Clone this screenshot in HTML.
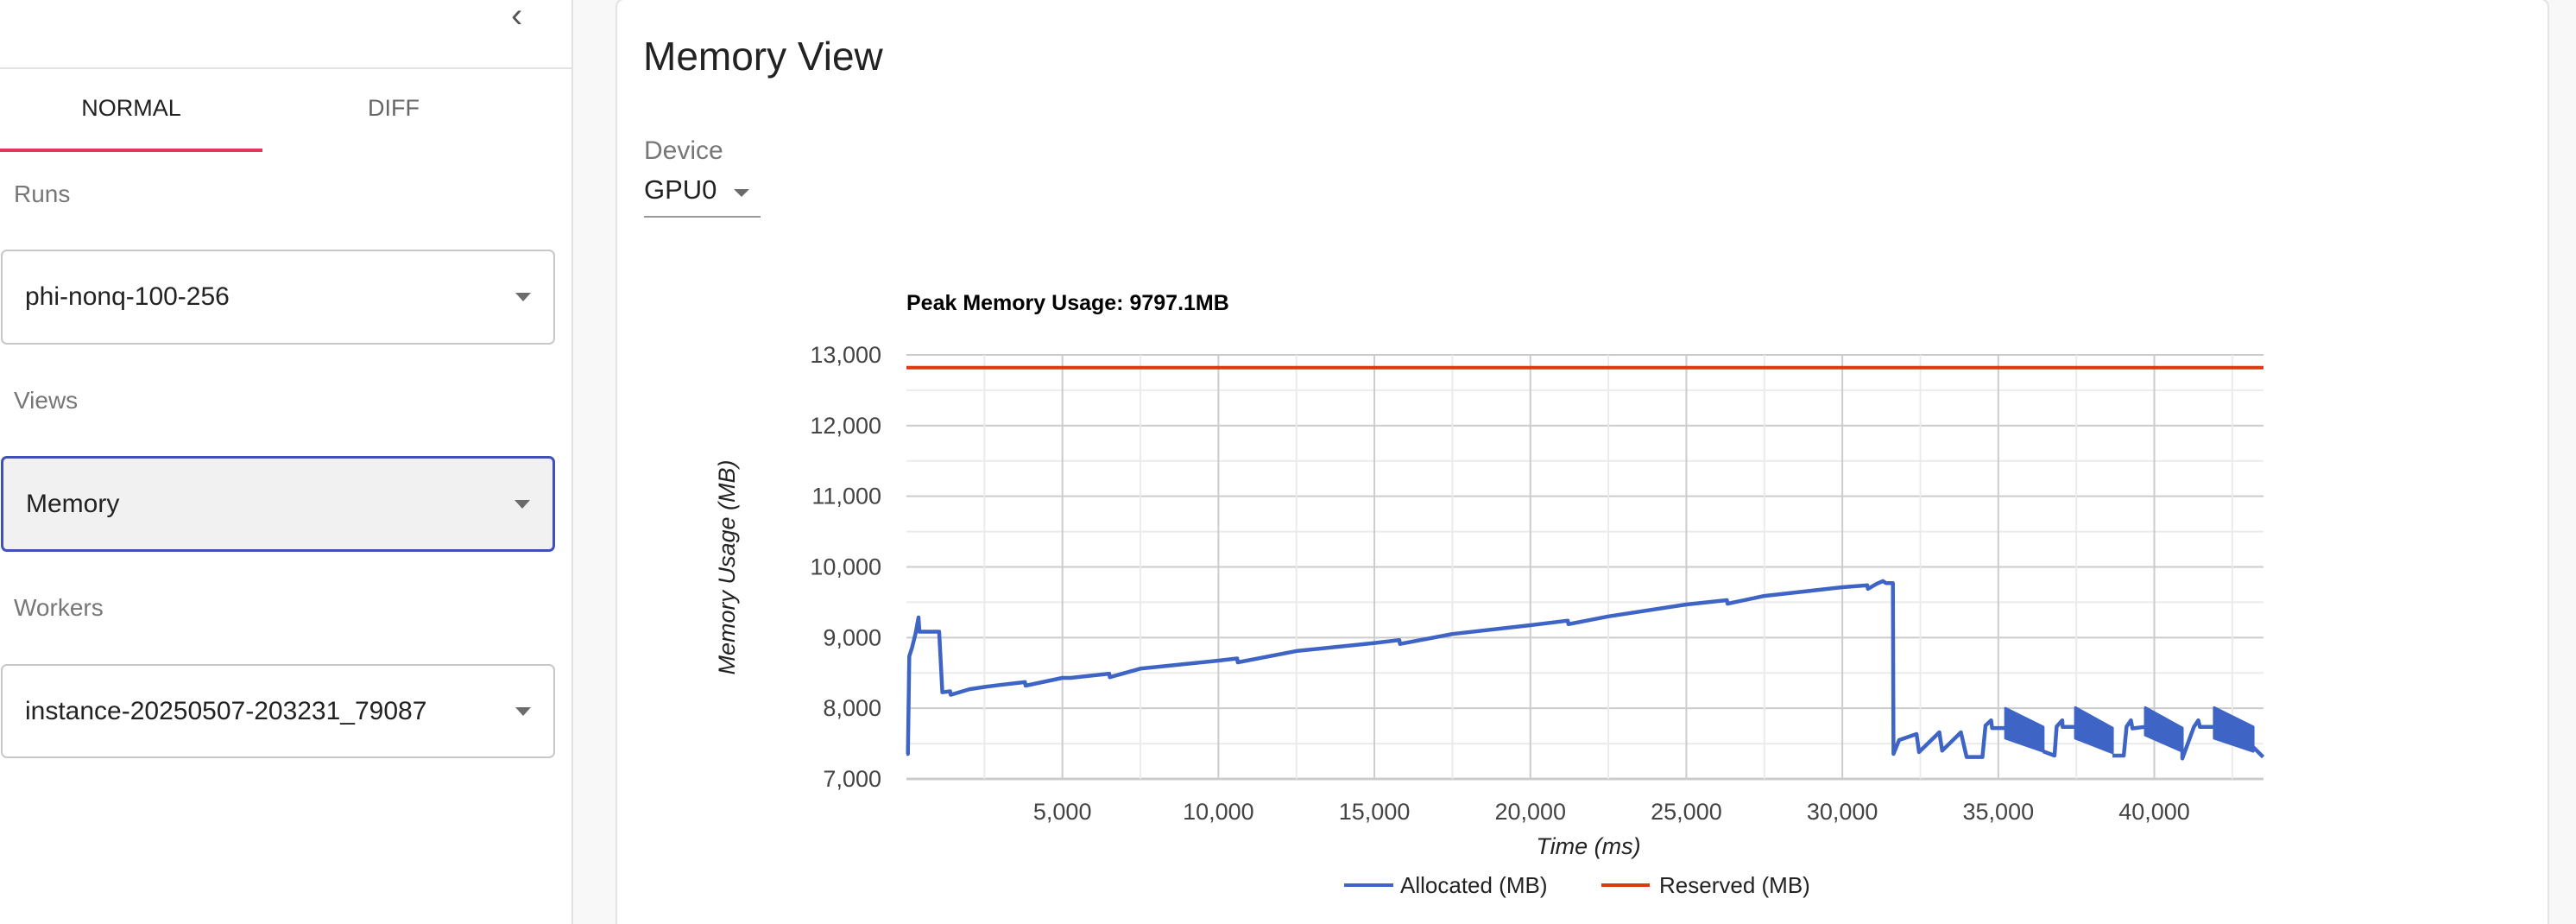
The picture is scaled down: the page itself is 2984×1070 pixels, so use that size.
<!DOCTYPE html>
<html><head><meta charset="utf-8">
<style>
html,body{margin:0;padding:0;width:2984px;height:1070px;overflow:hidden;background:#f8f8f8;font-family:"Liberation Sans",Arial,sans-serif;}
#wrap{position:fixed;left:0;top:0;width:2984px;height:1070px;overflow:hidden;background:#f8f8f8;}
#sidebar{position:absolute;left:0;top:0;width:662px;height:1070px;background:#fff;border-right:2px solid #e2e2e2;}
.abs{position:absolute;}
.lbl{position:absolute;left:16px;font-size:28px;color:#777;}
.sel{position:absolute;left:1px;width:642px;border:2px solid #c8c8c8;border-radius:7px;background:#fff;box-sizing:border-box;}
.sel span{position:absolute;left:26px;font-size:30px;color:#222;top:50%;transform:translateY(-50%);}
.arrow{position:absolute;right:26px;top:50%;margin-top:-5px;width:0;height:0;border-left:9px solid transparent;border-right:9px solid transparent;border-top:10px solid #6b6b6b;}
#card{position:absolute;left:713px;top:-2px;width:2240px;height:1090px;background:#fff;border:2px solid #e4e4e4;border-radius:10px;box-sizing:border-box;}
</style></head>
<body>
<div id="wrap">
<div id="sidebar">
  <div class="abs" style="left:592px;top:-4px;font-size:40px;color:#555;">‹</div>
  <div class="abs" style="left:0;top:78px;width:662px;height:2px;background:#e2e2e2;"></div>
  <div class="abs" style="left:0;top:110px;width:304px;text-align:center;font-size:27px;color:#222;">NORMAL</div>
  <div class="abs" style="left:304px;top:110px;width:304px;text-align:center;font-size:27px;color:#666;">DIFF</div>
  <div class="abs" style="left:0;top:172px;width:304px;height:4px;background:#e8345c;"></div>
  <div class="lbl" style="top:209px;">Runs</div>
  <div class="sel" style="top:289px;height:110px;"><span>phi-nonq-100-256</span><div class="arrow"></div></div>
  <div class="lbl" style="top:448px;">Views</div>
  <div class="sel" style="top:528px;height:111px;background:#f1f1f1;border:3px solid #3f51b5;"><span>Memory</span><div class="arrow"></div></div>
  <div class="lbl" style="top:688px;">Workers</div>
  <div class="sel" style="top:769px;height:109px;"><span>instance-20250507-203231_79087</span><div class="arrow"></div></div>
</div>
<div id="card"></div>
<div class="abs" style="left:745px;top:38px;font-size:46px;color:#222;">Memory View</div>
<div class="abs" style="left:746px;top:158px;font-size:30px;color:#777;">Device</div>
<div class="abs" style="left:746px;top:202px;width:135px;height:48px;border-bottom:2px solid #999;">
  <span style="font-size:31px;color:#222;">GPU0</span>
  <div style="position:absolute;left:104px;top:17px;width:0;height:0;border-left:9px solid transparent;border-right:9px solid transparent;border-top:9px solid #6b6b6b;"></div>
</div>

<svg id="chart" width="2984" height="1070" style="position:absolute;left:0;top:0;"></svg>
</div>
<script>
const xTicks=[5000,10000,15000,20000,25000,30000,35000,40000];
const yTicks=[7000,8000,9000,10000,11000,12000,13000];
const allocT=[0,47,90,180,295,387,415,1050,1150,1400,1420,2020,2480,3000,3800,3820,5000,5260,6500,6520,7500,10000,10600,10620,12500,15000,15800,15820,17500,20000,21200,21220,22500,25000,26300,26320,27500,30000,30800,30820,31100,31300,31400,31600,31620,31640,31820,32380,32460,33110,33200,33800,33985,34490,34590,34770,34800,35230];
const allocV=[7354,7354,8735,8858,9065,9285,9083,9083,8226,8240,8190,8270,8300,8330,8370,8320,8430,8430,8490,8440,8560,8674,8705,8650,8810,8923,8965,8910,9050,9175,9240,9190,9300,9468,9530,9480,9590,9713,9740,9690,9760,9800,9770,9770,9770,7354,7550,7635,7380,7660,7400,7660,7310,7310,7757,7830,7720,7720];
// dense sawtooth blocks
const blockStart=[35230,37470,39710,41920];
const blockEnd=[36440,38660,40900,43170];
const blockTopStart=[8000,8010,8010,8010];
const blockTopEnd=[7735,7720,7720,7737];
const blockBotStart=[7575,7575,7620,7575];
const blockBotEnd=[7390,7370,7390,7390];
// connectors between / after blocks
const gapT=[[36440,36800,36870,37050,37060,37470],[38660,39020,39110,39250,39300,39710],[40900,40900,41270,41410,41460,41920],[43170,43490]];
const gapV=[[7390,7330,7740,7830,7737,7737],[7330,7330,7740,7830,7715,7737],[7390,7290,7737,7830,7737,7737],[7450,7310]];
const reservedV=12820;
const xMin=0,xMax=43500,yMin=7000,yMax=13000;
const L=1050,R=2622,T=411,B=902;
const X=t=>L+(t-xMin)/(xMax-xMin)*(R-L);
const Y=v=>B-(v-yMin)/(yMax-yMin)*(B-T);
const svg=document.getElementById('chart');
const NS='http://www.w3.org/2000/svg';
function mk(tag,attrs){const e=document.createElementNS(NS,tag);for(const k in attrs)e.setAttribute(k,attrs[k]);svg.appendChild(e);return e;}
for(let v=yMin;v<=yMax;v+=500){
  const g=mk('line',{x1:L,x2:R,y1:Y(v),y2:Y(v),stroke:(v%1000===0)?'#cccccc':'#ebebeb','stroke-width':(v===yMin)?3:2});
  
  
}
for(let t=2500;t<xMax;t+=2500){
  const g=mk('line',{x1:X(t),x2:X(t),y1:T,y2:B,stroke:(t%5000===0)?'#cccccc':'#ebebeb','stroke-width':2});
  
  
}
yTicks.forEach(v=>{
  const e=mk('text',{x:1021,y:Y(v)+9,'text-anchor':'end','font-size':27,fill:'#444'});
  e.textContent=v.toLocaleString('en-US');
  
  
});
xTicks.forEach(t=>{
  const e=mk('text',{x:X(t),y:949,'text-anchor':'middle','font-size':27,fill:'#444'});
  e.textContent=t.toLocaleString('en-US');
  
  
});
const res=mk('line',{x1:L,x2:R,y1:Y(reservedV),y2:Y(reservedV),stroke:'#dc3912','stroke-width':4});


const pts=allocT.map((t,i)=>X(t).toFixed(1)+','+Y(allocV[i]).toFixed(1)).join(' ');
const al=mk('polyline',{points:pts,fill:'none',stroke:'#3e64c5','stroke-width':4.5,'stroke-linejoin':'round'});


blockStart.forEach((s,i)=>{
  const p=[X(s)+','+Y(blockTopStart[i]),X(blockEnd[i])+','+Y(blockTopEnd[i]),X(blockEnd[i])+','+Y(blockBotEnd[i]),X(s)+','+Y(blockBotStart[i])].join(' ');
  const b=mk('polygon',{points:p,fill:'#3e64c5',stroke:'#3e64c5','stroke-width':3,'stroke-linejoin':'round'});
  
  
  const g=mk('polyline',{points:gapT[i].map((t,j)=>X(t).toFixed(1)+','+Y(gapV[i][j]).toFixed(1)).join(' '),fill:'none',stroke:'#3e64c5','stroke-width':4.5,'stroke-linejoin':'round'});
  
  
});
let e=mk('text',{x:1050,y:359,'font-size':25,'font-weight':'bold',fill:'#000'});
e.textContent='Peak Memory Usage: 9797.1MB';


e=mk('text',{x:1840,y:989,'text-anchor':'middle','font-size':27,'font-style':'italic',fill:'#222'});
e.textContent='Time (ms)';


e=mk('text',{x:0,y:0,'text-anchor':'middle','font-size':27,'font-style':'italic',fill:'#222',transform:'translate(851,657) rotate(-90)'});
e.textContent='Memory Usage (MB)';


e=mk('line',{x1:1557,x2:1614,y1:1025,y2:1025,stroke:'#3e64c5','stroke-width':4});


e=mk('text',{x:1622,y:1034,'font-size':26,fill:'#222'});
e.textContent='Allocated (MB)';


e=mk('line',{x1:1855,x2:1911,y1:1025,y2:1025,stroke:'#dc3912','stroke-width':4});


e=mk('text',{x:1922,y:1034,'font-size':26,fill:'#222'});
e.textContent='Reserved (MB)';


</script>
</body></html>
